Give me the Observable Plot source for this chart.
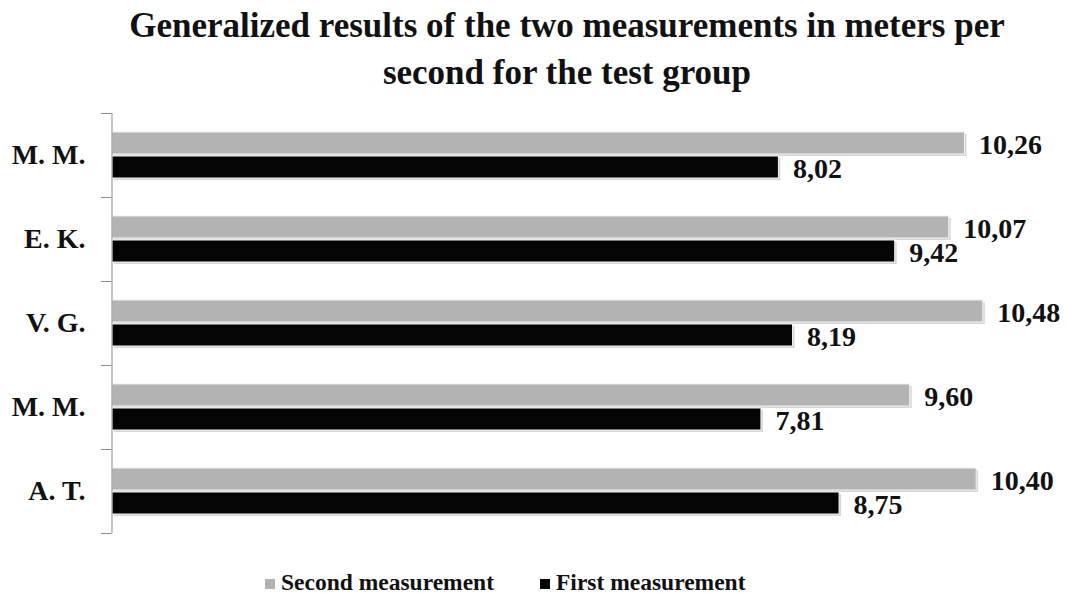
<!DOCTYPE html>
<html>
<head>
<meta charset="utf-8">
<script src="https://cdn.jsdelivr.net/npm/d3@7"></script>
<script src="https://cdn.jsdelivr.net/npm/@observablehq/plot@0.6"></script>
<style>
  html, body { margin: 0; padding: 0; background: #fff; width: 1067px; height: 595px; overflow: hidden; }
  body { position: relative; font-family: "Liberation Serif", "Times New Roman", serif; }
  #title { position: absolute; left: 67px; top: 2px; width: 1000px; text-align: center;
           font-size: 35px; font-weight: bold; line-height: 47px; color: #111; white-space: nowrap; }
  #chart { position: absolute; left: 0; top: 100px; }
  #legend { position: absolute; top: 567px; left: 0; width: 1067px; height: 30px; }
  .li { position: absolute; top: 0; font-size: 23.5px; font-weight: bold; color: #111; line-height: 30px; white-space: nowrap; }
  .sw { display: inline-block; width: 10px; height: 10px; margin-right: 6px; vertical-align: 1px; }
</style>
</head>
<body>
<div id="title">Generalized results of the two measurements in meters per<br>second for the test group</div>
<div id="chart"></div>
<div id="legend"></div>
<script>
const names = ["M. M.", "E. K.", "V. G.", "M. M.", "A. T."];
const secondMeasurement = [10.26, 10.07, 10.48, 9.60, 10.40];
const firstMeasurement = [8.02, 9.42, 8.19, 7.81, 8.75];
const seriesNames = ["Second measurement", "First measurement"];
const seriesColors = ["#b3b3b3", "#050505"];

const keys = names.map((_, i) => i);
const second = keys.map(i => ({key: i, value: secondMeasurement[i]}));
const first = keys.map(i => ({key: i, value: firstMeasurement[i]}));
const fmt = v => v.toFixed(2).replace(".", ",");

const marginLeft = 112, marginTop = 13, marginBottom = 22;
const plot = Plot.plot({
  width: 1067,
  height: 455,
  marginTop, marginBottom, marginLeft, marginRight: 41,
  style: {fontFamily: "'Liberation Serif', 'Times New Roman', serif", fontWeight: "bold", color: "#111", background: "transparent"},
  x: {domain: [0, 11], axis: null},
  y: {domain: keys, padding: 0, axis: null},
  marks: [
    Plot.axisY({tickSize: 0, tickPadding: 27, tickFormat: i => names[i], fontSize: 28, fontWeight: "bold", label: null}),
    // shadows
    Plot.barX(second, {x: "value", y: "key", insetTop: 19, insetBottom: 43, fill: "#d6d6d6", dx: 2, dy: 2}),
    Plot.barX(first, {x: "value", y: "key", insetTop: 43, insetBottom: 19, fill: "#d6d6d6", dx: 2, dy: 2}),
    // bars
    Plot.barX(second, {x: "value", y: "key", insetTop: 19, insetBottom: 43, fill: seriesColors[0], stroke: "#f2f2f2", strokeWidth: 1}),
    Plot.barX(first, {x: "value", y: "key", insetTop: 43, insetBottom: 19, fill: seriesColors[1], stroke: "#f2f2f2", strokeWidth: 1}),
    // labels
    Plot.text(second, {x: "value", y: "key", text: d => fmt(d.value), dx: 14, dy: -10, textAnchor: "start", fontSize: 28, fontWeight: "bold", fill: "#111"}),
    Plot.text(first, {x: "value", y: "key", text: d => fmt(d.value), dx: 14, dy: 14, textAnchor: "start", fontSize: 28, fontWeight: "bold", fill: "#111"}),
    Plot.ruleX([0], {stroke: "#8c8c8c", strokeWidth: 1, dx: -0.5})
  ]
});

// tick marks at the category band boundaries, using the plot's y scale
const ys = plot.scale("y");
const bounds = keys.map(k => ys.apply(k));
bounds.push(ys.apply(keys[keys.length - 1]) + ys.bandwidth);
const svg = d3.select(plot);
svg.append("g").selectAll("line").data(bounds).join("line")
  .attr("x1", marginLeft - 11).attr("x2", marginLeft - 0.5)
  .attr("y1", d => Math.round(d) + 0.5).attr("y2", d => Math.round(d) + 0.5)
  .attr("stroke", "#8c8c8c").attr("stroke-width", 1);

document.getElementById("chart").appendChild(plot);

// legend
const legend = d3.select("#legend");
const legendX = [265, 540];
seriesNames.forEach((n, i) => {
  const item = legend.append("div").attr("class", "li").style("left", legendX[i] + "px");
  item.append("span").attr("class", "sw").style("background", seriesColors[i]);
  item.append("span").text(n);
});
</script>
</body>
</html>
